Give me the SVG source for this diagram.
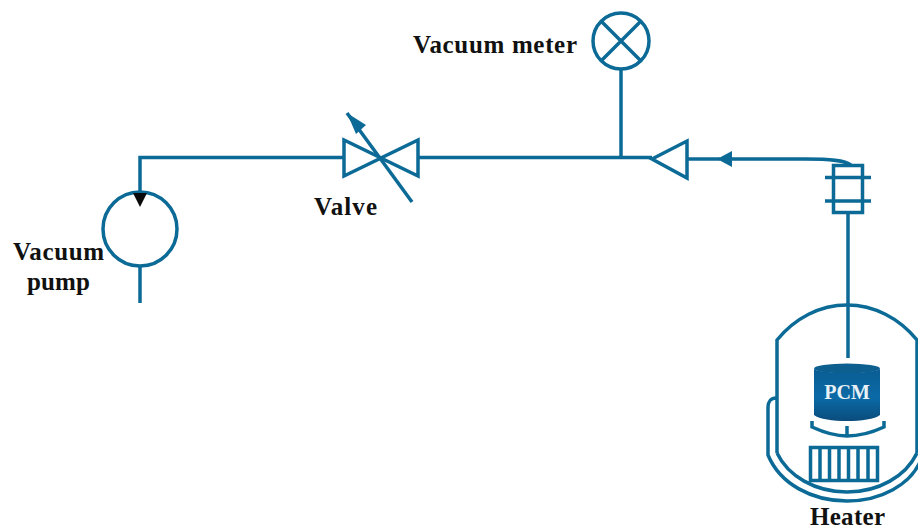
<svg xmlns="http://www.w3.org/2000/svg" width="918" height="530" viewBox="0 0 918 530">
<defs>
<linearGradient id="pcmFill" x1="0" y1="0" x2="0" y2="1">
<stop offset="0" stop-color="#0a5d94"/><stop offset="0.55" stop-color="#0b6aa6"/><stop offset="1" stop-color="#0a4c7c"/>
</linearGradient>
</defs>
<style>
.l{fill:none;stroke:#0c6a97;stroke-width:3.500;stroke-linejoin:miter}
.t{font-family:"Liberation Serif","Times New Roman",serif;font-weight:bold;fill:#111;font-size:25px}
</style>
<rect width="918" height="530" fill="#fff"/>
<g id="connectors">
<path class="l" d="M344 157.500H140V192"/>
<path class="l" d="M418 157.500H652"/>
<path class="l" d="M621 69V157"/>
<path class="l" d="M687 159H720"/>
<path class="l" d="M730 159H805C830 159 845 160 851 165"/>
<path class="l" d="M848 212V358"/>
<path class="l" d="M140 266V303"/>
</g>
<g id="vacuum-pump">
<circle class="l" cx="140" cy="229" r="37"/>
<polygon points="133,193 147,193 140,207" fill="#0a0a0a"/>
<text class="t" x="13" y="260" textLength="91" lengthAdjust="spacing">Vacuum</text>
<text class="t" x="27" y="290" textLength="63" lengthAdjust="spacing">pump</text>
</g>
<g id="valve">
<path class="l" d="M344 140V176L381 158ZM418 140V176L381 158Z"/>
<path class="l" d="M412 202L347 113"/>
<polygon points="347,113 366,125 356,134" fill="#0c6a97"/>
<text class="t" x="314" y="215" textLength="63" lengthAdjust="spacing">Valve</text>
</g>
<g id="vacuum-meter">
<circle class="l" cx="621" cy="41" r="28"/>
<path class="l" d="M601 21L641 61M641 21L601 61"/>
<text class="t" x="413" y="53" textLength="164" lengthAdjust="spacing">Vacuum meter</text>
</g>
<g id="check-valve">
<polygon class="l" points="652,159 687,141 687,178"/>
<polygon points="717,159 732,151 732,167" fill="#0c6a97"/>
</g>
<g id="coupling">
<rect class="l" x="833.500" y="165.500" width="29" height="47"/>
<path class="l" d="M825 177.500H871M825 201H871"/>
</g>
<g id="heater">
<path class="l" d="M777 453V340C795 318 820 305 847 305C874 305 899 318 917 340V453"/>
<path class="l" d="M777 453C788 476 815 492 847 492C879 492 906 476 917 453"/>
<path class="l" d="M776 398C771 398 768 402 768 407V455C780 484 812 501 847 501C882 501 910 484 920 462"/>
<ellipse cx="847" cy="368.500" rx="33" ry="5" fill="#0c5f8f"/>
<path d="M814 369C820 374 874 374 880 369V415C870 423 824 423 814 415Z" fill="url(#pcmFill)"/>
<text x="847" y="399" text-anchor="middle" style="font-family:'Liberation Serif','Times New Roman',serif;font-weight:bold;font-size:20px;fill:#e8f1f6">PCM</text>
<path class="l" d="M812 421V427C825 433 836 436 847 436C858 436 871 433 884 427V421"/>
<path class="l" d="M847 426V436"/>
<rect class="l" x="810.500" y="447.500" width="67" height="33"/>
<path class="l" d="M820 447V480M829.500 447V480M839 447V480M848.500 447V480M858 447V480M868 447V480"/>
<text class="t" x="810" y="524.500" textLength="75" lengthAdjust="spacing">Heater</text>
</g>
</svg>
